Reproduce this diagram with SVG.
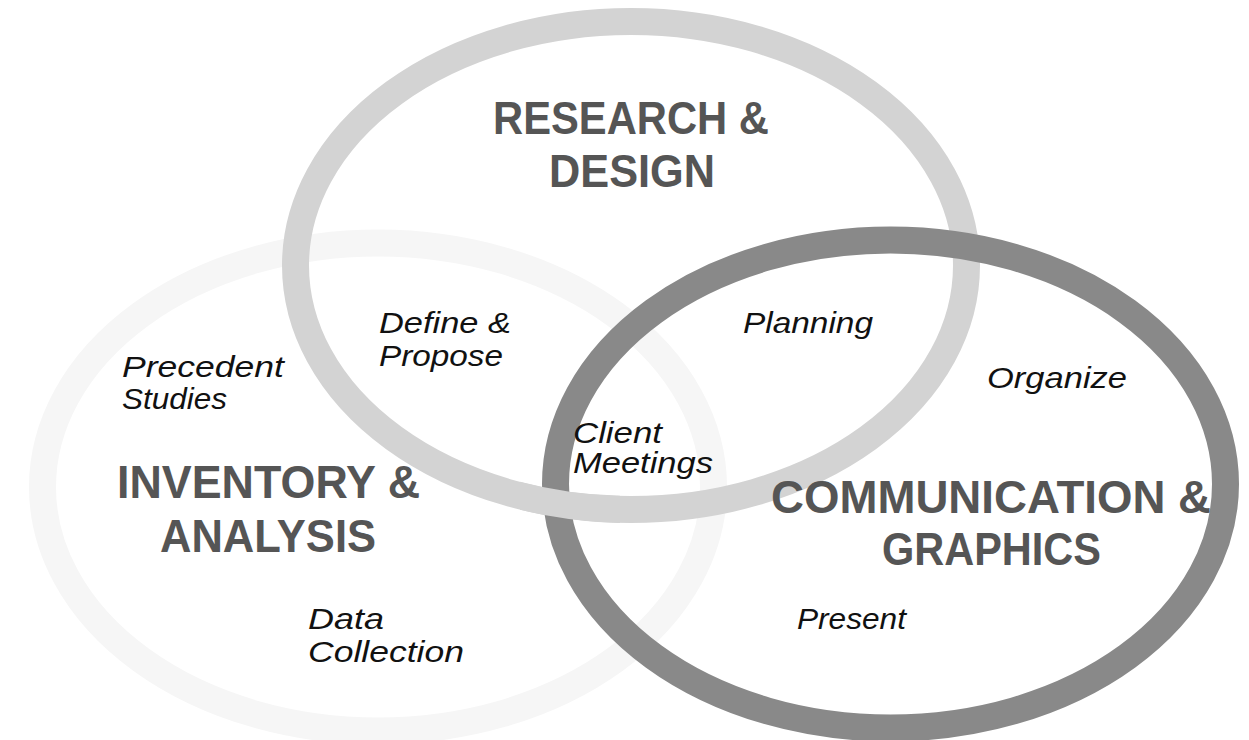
<svg xmlns="http://www.w3.org/2000/svg" width="1249" height="740" viewBox="0 0 1249 740">
  <style>
    .ring { fill: none; stroke-width: 27; }
    .ring-inv { stroke: #f6f6f6; }
    .ring-res { stroke: #d3d3d3; }
    .ring-com { stroke: #898989; }
    .title { font-family: "Liberation Sans", Arial, sans-serif; font-weight: bold; font-size: 47px; fill: #555555; }
    .label { font-family: "Liberation Sans", Arial, sans-serif; font-style: italic; font-size: 29px; fill: #111111; }
  </style>
  <defs>
    <ellipse id="ring-res-shape" cx="631" cy="265.5" rx="335.5" ry="244"/>
    <!-- the research ring passes over the dark ring at the lower left crossing -->
    <clipPath id="weave-clip">
      <rect x="520" y="440" width="100" height="100"/>
    </clipPath>
  </defs>

  <rect width="1249" height="740" fill="#ffffff"/>

  <g id="inventory-analysis">
    <ellipse class="ring ring-inv" cx="378" cy="487" rx="335.5" ry="244"/>
    <text class="title" x="117" y="498" textLength="303" lengthAdjust="spacingAndGlyphs">INVENTORY &amp;</text>
    <text class="title" x="160" y="552" textLength="216" lengthAdjust="spacingAndGlyphs">ANALYSIS</text>
  </g>

  <g id="research-design">
    <use href="#ring-res-shape" class="ring ring-res"/>
    <text class="title" x="493" y="134" textLength="276" lengthAdjust="spacingAndGlyphs">RESEARCH &amp;</text>
    <text class="title" x="549" y="187" textLength="166" lengthAdjust="spacingAndGlyphs">DESIGN</text>
  </g>

  <g id="communication-graphics">
    <ellipse class="ring ring-com" cx="890.5" cy="484" rx="335" ry="244"/>
    <text class="title" x="771" y="513" textLength="440" lengthAdjust="spacingAndGlyphs">COMMUNICATION &amp;</text>
    <text class="title" x="882" y="565" textLength="219" lengthAdjust="spacingAndGlyphs">GRAPHICS</text>
  </g>

  <g id="ring-weave" clip-path="url(#weave-clip)">
    <use href="#ring-res-shape" class="ring ring-res"/>
  </g>

  <g id="labels">
    <text class="label" x="379" y="333" textLength="132" lengthAdjust="spacingAndGlyphs">Define &amp;</text>
    <text class="label" x="379" y="366" textLength="124" lengthAdjust="spacingAndGlyphs">Propose</text>
    <text class="label" x="122" y="377" textLength="162" lengthAdjust="spacingAndGlyphs">Precedent</text>
    <text class="label" x="122" y="409" textLength="105" lengthAdjust="spacingAndGlyphs">Studies</text>
    <text class="label" x="308" y="629" textLength="76" lengthAdjust="spacingAndGlyphs">Data</text>
    <text class="label" x="308" y="662" textLength="156" lengthAdjust="spacingAndGlyphs">Collection</text>
    <text class="label" x="743" y="333" textLength="130" lengthAdjust="spacingAndGlyphs">Planning</text>
    <text class="label" x="987" y="388" textLength="140" lengthAdjust="spacingAndGlyphs">Organize</text>
    <text class="label" x="573" y="443" textLength="89" lengthAdjust="spacingAndGlyphs">Client</text>
    <text class="label" x="573" y="473" textLength="140" lengthAdjust="spacingAndGlyphs">Meetings</text>
    <text class="label" x="797" y="629" textLength="109" lengthAdjust="spacingAndGlyphs">Present</text>
  </g>
</svg>
